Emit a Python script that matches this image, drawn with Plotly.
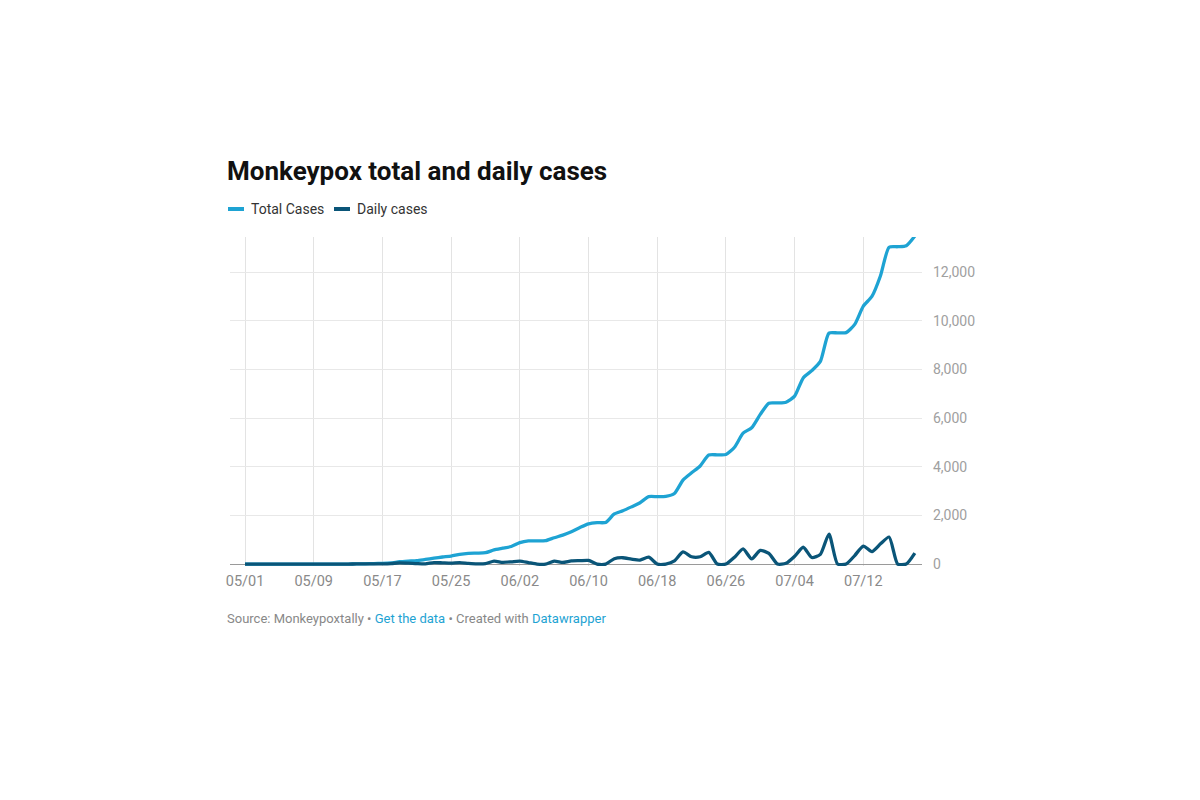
import plotly.graph_objects as go
import pandas as pd

# ---- data ----
dates = pd.date_range("2022-05-01", "2022-07-18", freq="D")
total_cases = [0, 0, 0, 0, 0, 0, 0, 0, 0, 0,
               0, 0, 0, 5, 10, 20, 30, 50, 95, 120,
               140, 190, 240, 290, 330, 400, 440, 450, 465, 580,
               650, 720, 880, 950, 950, 960, 1080, 1190, 1330, 1500,
               1650, 1700, 1710, 2060, 2190, 2350, 2520, 2770, 2770, 2780,
               2900, 3450, 3750, 4030, 4480, 4490, 4500, 4800, 5380, 5600,
               6150, 6610, 6620, 6650, 6900, 7650, 7950, 8330, 9490, 9500,
               9510, 9850, 10600, 11000, 11850, 13020, 13040, 13080, 13480]
daily_cases = [0, 0, 0, 0, 0, 0, 0, 0, 0, 0,
               0, 0, 0, 5, 5, 10, 10, 20, 50, 40,
               20, 10, 60, 50, 40, 60, 30, 10, 20, 120,
               70, 90, 120, 60, 0, 0, 120, 70, 130, 140,
               150, 0, 0, 220, 260, 200, 160, 280, 0, 0,
               130, 500, 300, 300, 480, 0, 0, 280, 620, 210,
               560, 440, 0, 30, 320, 690, 270, 400, 1230, 0,
               0, 350, 740, 510, 830, 1110, 0, 0, 450]
tick_dates = pd.date_range("2022-05-01", "2022-07-12", freq="8D")
tick_labels = [d.strftime("%m/%d") for d in tick_dates]
y_ticks = [0, 2000, 4000, 6000, 8000, 10000, 12000]
y_labels = ["0", "2,000", "4,000", "6,000", "8,000", "10,000", "12,000"]

LIGHT = "#1ea3d3"
DARK = "#0a5578"
FONT = "Roboto"

fig = go.Figure()
fig.add_trace(go.Scatter(x=dates, y=total_cases, mode="lines", name="Total Cases",
                         line=dict(color=LIGHT, width=3.3, shape="spline", smoothing=0.6)))
fig.add_trace(go.Scatter(x=dates, y=daily_cases, mode="lines", name="Daily cases",
                         line=dict(color=DARK, width=3.3, shape="spline", smoothing=0.6)))

# plot-area edges in page pixels; page body has an 8px margin
OFF = 8
L, R, T, B = 230, 922, 237, 566
W, H = 1200, 800
pw, ph = R - L, B - T

def px(x):
    return (x - L) / pw

def py(y):
    return (B - y) / ph

fig.update_layout(
    width=W, height=H,
    margin=dict(l=L - OFF, r=W - R + OFF, t=T - OFF, b=H - B + OFF, pad=0),
    paper_bgcolor="white", plot_bgcolor="white",
    showlegend=False,
    font=dict(family=FONT, color="#333333"),
    xaxis=dict(
        type="date",
        range=["2022-04-29 06:00", "2022-07-18 20:00"],
        tickvals=list(tick_dates), ticktext=tick_labels,
        showgrid=True, gridcolor="#e3e3e3", gridwidth=1,
        zeroline=False, showline=False, ticks="",
        ticklabelstandoff=4,
        tickfont=dict(family=FONT, size=14.5, color="#8a8a8a"),
        fixedrange=True,
    ),
    yaxis=dict(
        side="right",
        range=[-80, 13440],
        tickvals=y_ticks, ticktext=y_labels,
        showgrid=True, gridcolor="#e8e8e8", gridwidth=1,
        zeroline=True, zerolinecolor="#9a9a9a", zerolinewidth=1,
        showline=False, ticks="",
        ticklabelstandoff=10,
        tickfont=dict(family=FONT, size=14, color="#a0a0a0"),
        fixedrange=True,
    ),
)

annotations = [
    dict(text="<b>Monkeypox total and daily cases</b>", xref="paper", yref="paper",
         x=px(225), y=py(171), xanchor="left", yanchor="middle", showarrow=False,
         font=dict(family=FONT, size=26, color="#111111")),
    dict(text="Total Cases", xref="paper", yref="paper", x=px(249), y=py(209),
         xanchor="left", yanchor="middle", showarrow=False,
         font=dict(family=FONT, size=14, color="#333333")),
    dict(text="Daily cases", xref="paper", yref="paper", x=px(355), y=py(209),
         xanchor="left", yanchor="middle", showarrow=False,
         font=dict(family=FONT, size=14, color="#333333")),
    dict(text="Source: Monkeypoxtally • <span style='color:#1ea3d3'>Get the data</span> • Created with <span style='color:#1ea3d3'>Datawrapper</span>",
         xref="paper", yref="paper", x=px(225), y=py(618),
         xanchor="left", yanchor="middle", showarrow=False,
         font=dict(family=FONT, size=13, color="#888888")),
]
fig.update_layout(annotations=annotations)

shapes = [
    dict(type="line", xref="paper", yref="paper", x0=px(228), x1=px(244), y0=py(209), y1=py(209),
         line=dict(color=LIGHT, width=4)),
    dict(type="line", xref="paper", yref="paper", x0=px(334), x1=px(350), y0=py(209), y1=py(209),
         line=dict(color=DARK, width=4)),
]
fig.update_layout(shapes=shapes)

fig.write_html("out.html")
